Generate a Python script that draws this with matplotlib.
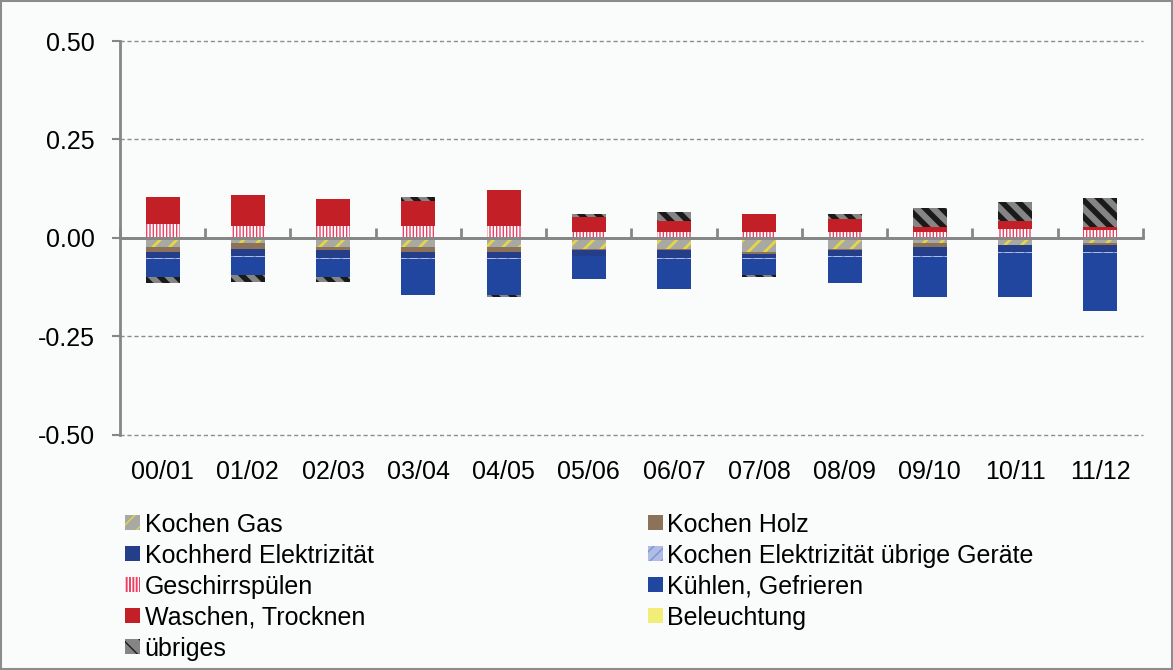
import matplotlib
matplotlib.use("Agg")
import matplotlib.pyplot as plt
import numpy as np
from matplotlib.patches import Rectangle

plt.rcParams['font.family'] = ['Liberation Sans', 'DejaVu Sans']

# Daten (Beiträge je Verwendungszweck, negativ = Abnahme)
jahre = ['00/01', '01/02', '02/03', '03/04', '04/05', '05/06',
         '06/07', '07/08', '08/09', '09/10', '10/11', '11/12']
kochen_gas = [-0.022, -0.012, -0.022, -0.022, -0.022, -0.028,
              -0.028, -0.037, -0.028, -0.012, -0.017, -0.012]
kochen_holz = [-0.015, -0.016, -0.010, -0.015, -0.015, -0.003,
               -0.004, -0.005, -0.004, -0.010, -0.002, -0.005]
kochherd_el = [-0.015, -0.019, -0.020, -0.015, -0.015, -0.015,
               -0.020, -0.010, -0.015, -0.025, -0.018, -0.020]
kochen_el_uebrige = [-0.001, -0.001, -0.001, -0.001, -0.001, -0.001,
                     -0.001, -0.001, -0.001, -0.001, -0.001, -0.001]
geschirrspuelen = [0.034, 0.029, 0.029, 0.029, 0.029, 0.014,
                   0.014, 0.014, 0.014, 0.014, 0.023, 0.021]
kuehlen = [-0.046, -0.046, -0.046, -0.091, -0.091, -0.057,
           -0.076, -0.041, -0.066, -0.102, -0.112, -0.147]
waschen = [0.071, 0.081, 0.070, 0.064, 0.092, 0.039,
           0.029, 0.046, 0.034, 0.014, 0.019, 0.007]
beleuchtung = [0.0, 0.0, 0.0, 0.0, 0.0, 0.0,
               0.0, 0.0, 0.0, 0.0, 0.0, 0.0]
uebriges = [-0.015, -0.019, -0.014, 0.012, -0.005, 0.007,
            0.022, -0.005, 0.012, 0.047, 0.048, 0.072]

# Reihenfolge wie in Excel (positiv und negativ getrennt gestapelt)
serien = [
    ('Kochen Gas', kochen_gas, dict(facecolor='#A9A9A3', edgecolor='#E4D645', hatch='//'), 2.0),
    ('Kochen Holz', kochen_holz, dict(facecolor='#8C7259'), 1.0),
    ('Kochherd Elektrizität', kochherd_el, dict(facecolor='#243E8A'), 1.0),
    ('Kochen Elektrizität übrige Geräte', kochen_el_uebrige,
     dict(facecolor='#AFBDE6', edgecolor='#7F93D0', hatch='///'), 1.5),
    ('Geschirrspülen', geschirrspuelen, dict(facecolor='#EA4264', edgecolor='white', hatch='|||||'), 1.4),
    ('Kühlen, Gefrieren', kuehlen, dict(facecolor='#2146A0'), 1.0),
    ('Waschen, Trocknen', waschen, dict(facecolor='#C21F26'), 1.0),
    ('Beleuchtung', beleuchtung, dict(facecolor='#F2EC78'), 1.0),
    ('übriges', uebriges, dict(facecolor='#858585', edgecolor='#1A1A1A', hatch='\\\\'), 4.0),
]

fig = plt.figure(figsize=(11.73, 6.70), dpi=100)
fig.patch.set_facecolor('#FAFBFB')
ax = fig.add_axes([0.1023, 0.3512, 0.8721, 0.5876])
ax.set_facecolor('#FAFBFB')

x = np.arange(len(jahre))
pos_base = np.zeros(len(jahre))
neg_base = np.zeros(len(jahre))
handles = []
for name, werte, stil, hlw in serien:
    werte = np.array(werte)
    bottom = np.where(werte >= 0, pos_base, neg_base)
    with plt.rc_context({'hatch.linewidth': hlw}):
        bars = ax.bar(x, werte, 0.4, bottom=bottom, linewidth=0, label=name, zorder=3, **stil)
    handles.append(bars)
    pos_base = pos_base + np.where(werte >= 0, werte, 0)
    neg_base = neg_base + np.where(werte < 0, werte, 0)

ax.set_xlim(-0.5, len(jahre) - 0.5)
ax.set_ylim(-0.5, 0.5)
ax.set_yticks([-0.5, -0.25, 0.25, 0.5], minor=False)
ax.set_yticks([-0.5, -0.25, 0, 0.25, 0.5])
ax.set_yticklabels(['-0.50', '-0.25', '0.00', '0.25', '0.50'])
ax.yaxis.grid(True, linestyle=(0, (3, 2)), color='#8C8C8C', linewidth=1.0, zorder=0)
for gl in ax.get_ygridlines():
    gl.set_clip_on(False)
ax.set_xticks(x)
ax.set_xticklabels(jahre)
ax.tick_params(axis='x', length=0, pad=18, labelsize=18)
ax.tick_params(axis='y', length=6, width=1.5, color='#868686', pad=12, labelsize=18)
for s in ['top', 'right', 'bottom']:
    ax.spines[s].set_visible(False)
ax.spines['left'].set_color('#868686')
ax.spines['left'].set_linewidth(2)

# Nulllinie mit Teilstrichen zwischen den Kategorien
ax.axhline(0, color='#868686', linewidth=2, zorder=5)
sec = ax.secondary_xaxis(0.5)
sec.set_xticks(np.arange(-0.5, len(jahre), 1.0))
sec.set_xticklabels([])
sec.tick_params(length=7, width=2, color='#868686', direction='out')
for sp in sec.spines.values():
    sp.set_color('#868686')
    sp.set_linewidth(2)
sec.set_zorder(4)

# Legende in zwei Spalten
reihen = [0, 2, 4, 6, 8]
col1 = [handles[i] for i in reihen]
col2 = [handles[i] for i in [1, 3, 5, 7]]
leg_kw = dict(frameon=False, fontsize=18, handlelength=0.6, handleheight=0.52,
              handletextpad=0.18, labelspacing=0.28, borderpad=0, borderaxespad=0)
l1 = fig.legend(col1, [serien[i][0] for i in reihen], loc='upper left',
                bbox_to_anchor=(0.1066, 0.235), **leg_kw)
l2 = fig.legend(col2, [serien[i][0] for i in [1, 3, 5, 7]], loc='upper left',
                bbox_to_anchor=(0.5524, 0.235), **leg_kw)

fig.patches.append(Rectangle((0.0008, 0.0012), 0.9984, 0.9976, transform=fig.transFigure,
                             fill=False, edgecolor='#8C8C8C', linewidth=1.5))

fig.savefig('out.png', dpi=100, facecolor=fig.get_facecolor())
